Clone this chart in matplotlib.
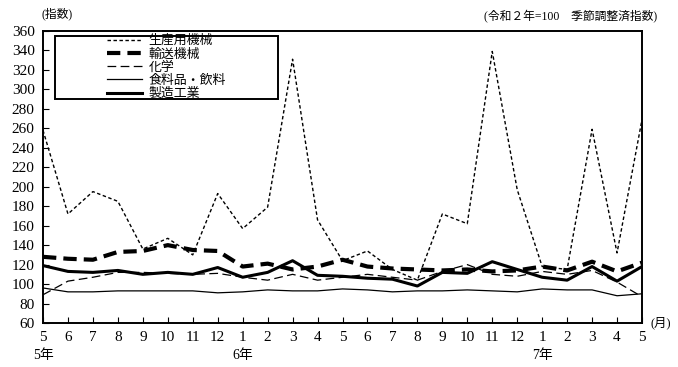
import numpy as np
import matplotlib.pyplot as plt
from matplotlib.patches import Rectangle

plt.rcParams['font.family'] = ['Liberation Serif', 'Noto Sans CJK JP']

# 令和5年5月 ～ 令和7年5月
months = ['5', '6', '7', '8', '9', '10', '11', '12', '1', '2', '3', '4',
          '5', '6', '7', '8', '9', '10', '11', '12', '1', '2', '3', '4', '5']
years = ['5年', '6年', '7年']
year_pos = [0, 8, 20]

prod_mach = [258, 172, 195, 185, 136, 147, 130, 193, 157, 179, 331, 166, 124,
             134, 115, 104, 172, 162, 339, 197, 118, 115, 259, 132, 269]
transport = [128, 126, 125, 133, 134, 140, 135, 134, 118, 121, 115, 118, 125,
             118, 116, 115, 114, 115, 113, 114, 118, 114, 123, 113, 122]
chemical = [89, 103, 107, 112, 112, 111, 110, 111, 107, 104, 110, 104, 107,
            110, 107, 104, 113, 120, 110, 108, 113, 110, 114, 102, 87]
food = [96, 92, 92, 93, 93, 93, 93, 91, 92, 94, 93, 93, 95,
        94, 92, 93, 93, 94, 93, 92, 95, 94, 94, 88, 90]
manuf = [119, 113, 112, 114, 110, 112, 110, 117, 107, 112, 124, 109, 108,
         106, 105, 98, 112, 111, 123, 115, 107, 104, 118, 103, 118]

x = np.arange(len(months))

fig = plt.figure(figsize=(6.78, 3.67), dpi=100)
ax = fig.add_axes([43/678, 1-323/367, 599/678, 292/367])

ax.plot(x, prod_mach, color='black', lw=1.0, linestyle=(0, (2.5, 1.8)), label='生産用機械')
ax.plot(x, transport, color='black', lw=3.0, linestyle=(0, (3.2, 1.7)), label='輸送機械')
ax.plot(x, chemical, color='black', lw=0.9, linestyle=(0, (7, 3.5)), label='化学')
ax.plot(x, food, color='black', lw=0.9, label='食料品・飲料')
ax.plot(x, manuf, color='black', lw=2.2, label='製造工業')

ax.set_xlim(0, 24)
ax.set_ylim(60, 360)
ax.set_yticks(np.arange(60, 361, 20))
ax.set_xticks(x)
ax.set_xticklabels(months)
ax.tick_params(direction='in', length=4, labelsize=11, colors='black', pad=6)
for s in ax.spines.values():
    s.set_linewidth(1.4)

for p, t in zip(year_pos, years):
    ax.text(p, -0.09, t, transform=ax.get_xaxis_transform(), ha='center', va='top', fontsize=10)
ax.text(1.015, 0.0, '(月)', transform=ax.transAxes, ha='left', va='center', fontsize=9)

fig.text(42/678, 1-14/367, '(指数)', ha='left', va='center', fontsize=8.5)
fig.text(657/678, 1-17/367, '(令和２年=100　季節調整済指数)', ha='right', va='center', fontsize=8.5)

# legend box
ax.add_patch(Rectangle((0.02, 0.766), 0.372, 0.217, transform=ax.transAxes,
                       fill=False, edgecolor='black', lw=1.4, zorder=6))
leg = ax.legend(loc='center', bbox_to_anchor=(0.206, 0.876), frameon=False,
                prop={'family': ['Noto Sans CJK JP'], 'size': 9.3},
                handlelength=2.7, handletextpad=0.5, labelspacing=0.02,
                borderpad=0)

fig.savefig('out.png', dpi=100)
